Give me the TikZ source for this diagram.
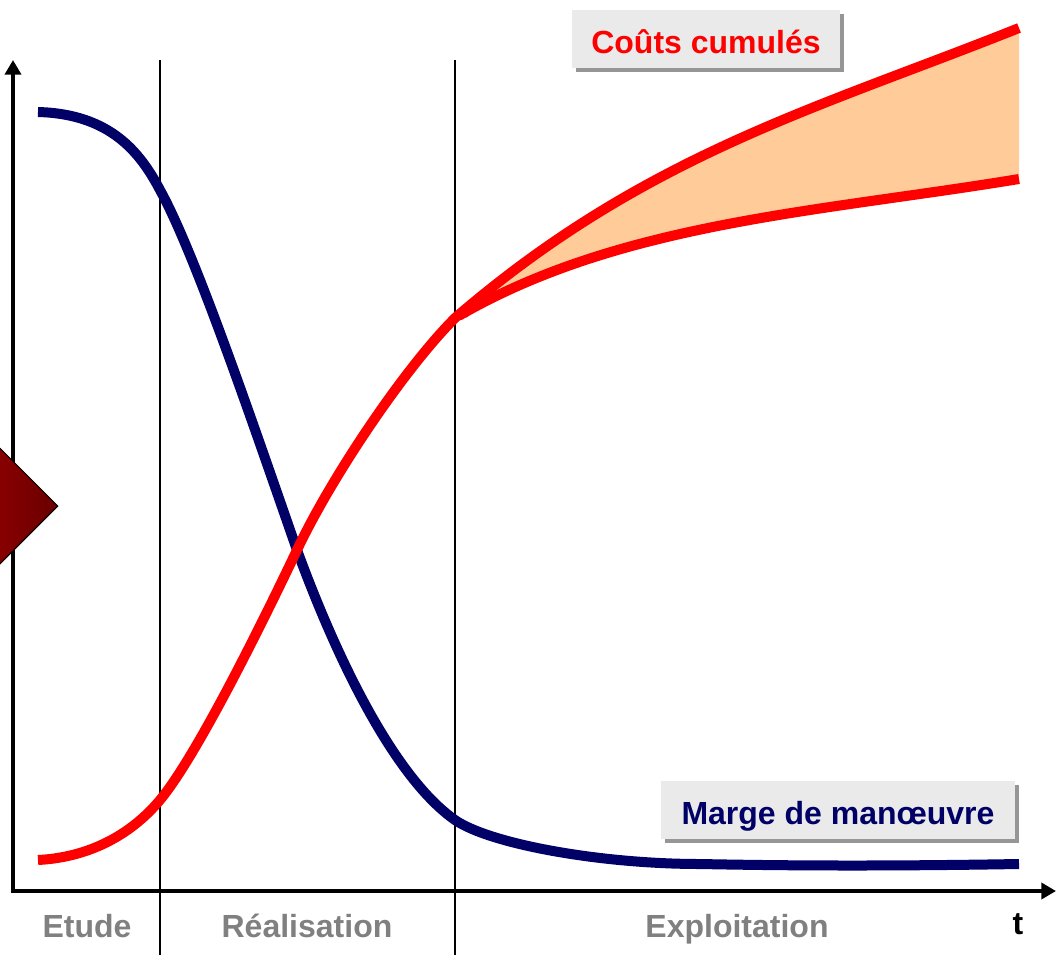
\documentclass[tikz,border=0pt]{standalone}
\usepackage{fontspec}
\setmainfont{Liberation Sans}
\usetikzlibrary{arrows.meta, shadows, shapes.geometric}

\definecolor{costred}{RGB}{255,0,0}
\definecolor{margenavy}{RGB}{0,0,102}
\definecolor{gapfill}{RGB}{255,204,153}
\definecolor{boxgray}{RGB}{234,234,234}
\definecolor{shadowgray}{RGB}{150,150,150}
\definecolor{phasegray}{RGB}{128,128,128}
\definecolor{darkred}{RGB}{165,0,0}
\definecolor{deepred}{RGB}{105,0,0}

\begin{document}
\begin{tikzpicture}[x=0.75pt, y=-0.75pt,
    axisline/.style = {line width=3pt, -{Triangle[length=11pt, width=12pt]}},
    phase/.style = {line width=1.5pt},
    curve/.style = {line width=7.5pt},
    phaselabel/.style = {anchor=base, inner sep=0pt, text=phasegray, font=\bfseries\fontsize{24}{28}\selectfont},
    tag/.style = {fill=boxgray, inner sep=0pt, minimum height=43pt, text height=21pt, text depth=0pt,
        font=\bfseries\fontsize{24}{28}\selectfont,
        drop shadow={shadow xshift=3pt, shadow yshift=-3pt, fill=shadowgray, opacity=1}}]
    \useasboundingbox (0,0) rectangle (1063,960);

    % Axes
    \coordinate (O) at (13,891);
    \coordinate (Ytop) at (13,60);
    \coordinate (Xend) at (1056,891);
    \draw[axisline] (13,893) -- (Ytop);
    \draw[axisline] (11,891) -- (Xend);

    % Phases
    \draw[phase] (160,60) -- (160,955);
    \draw[phase] (455,60) -- (455,955);
    \node[phaselabel] (E) at (87,937) {Etude};
    \node[phaselabel] (R) at (307,937) {Réalisation};
    \node[phaselabel] (X) at (737,937) {Exploitation};
    \node[phaselabel, text=black] (T) at (1018,934) {t};

    % Pointer on the axis
    \node[diamond, draw, line width=0.75pt, inner sep=0pt, minimum width=87pt, minimum height=87pt,
        left color=darkred, right color=deepred] (D) at (0,506) {};

    % Gap between the two cost curves
    \coordinate (K) at (297,550);
    \coordinate (S) at (455,318);
    \coordinate (U) at (1019,28);
    \coordinate (L) at (1019,179);
    \fill[gapfill] (S) .. controls (645,154) and (819,108) .. (U)
        -- (L) .. controls (819,212) and (625,222) .. (S) -- cycle;

    % Curves
    \draw[curve, margenavy] (38,112) .. controls (110,114) and (140,152) .. (160,190)
        .. controls (195,253) and (253,424) .. (K)
        .. controls (338,662) and (395,778) .. (455,820)
        .. controls (490,844) and (600,864) .. (700,864)
        .. controls (800,866) and (900,866) .. (1019,864);
    \draw[curve, costred] (38,860) .. controls (95,857) and (135,830) .. (160,800)
        .. controls (195,758) and (257,634) .. (K)
        .. controls (332,476) and (405,368) .. (S)
        .. controls (645,154) and (819,108) .. (U);
    \draw[curve, costred, {Round Cap[]}-] (S) .. controls (625,222) and (819,212) .. (L);

    % Labels
    \node[tag, text=costred, minimum width=201pt] (C) at (706,39) {Coûts cumulés};
    \node[tag, text=margenavy, minimum width=265pt] (M) at (838,810) {Marge de manœuvre};
\end{tikzpicture}
\end{document}
